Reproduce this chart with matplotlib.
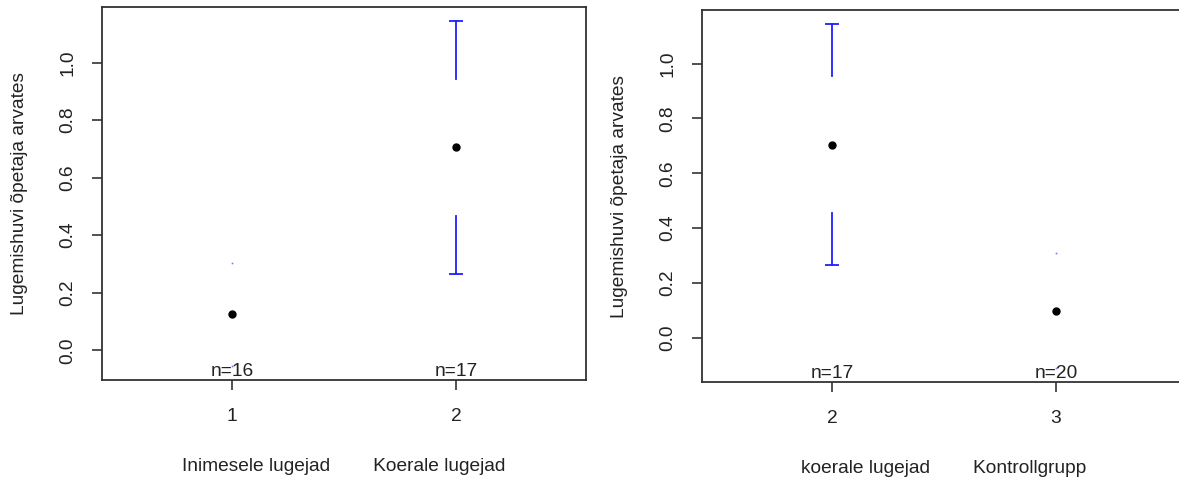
import matplotlib
matplotlib.use("Agg")
import matplotlib.pyplot as plt
import numpy as np

# andmed (loetud pildilt)
labels_left = ["1", "2"]
means_left = [0.125, 0.705]
ci_left = [0.18, 0.44]
n_left = [16, 17]
xlab_left = "Inimesele lugejad        Koerale lugejad"

labels_right = ["2", "3"]
means_right = [0.705, 0.10]
ci_right = [0.44, 0.21]
n_right = [17, 20]
xlab_right = "koerale lugejad        Kontrollgrupp"

ylab = "Lugemishuvi õpetaja arvates"
yticks = [0.0, 0.2, 0.4, 0.6, 0.8, 1.0]

plt.rcParams['font.family'] = ['Liberation Sans', 'DejaVu Sans']
FS = 13.8
BLUE = "#1f1fff"
AXCOL = "#333333"
GAP_FRAC = 0.183  # vahe punkti ja veapiiri vahel (telje kõrgusest)


def joonista(ax, tick_labels, means, half, counts, xlabel):
    pos = np.arange(1, len(means) + 1)
    means = np.array(means)
    half = np.array(half)
    lo = means - half
    hi = means + half

    # R stiilis 4% laiendus
    ymin, ymax = lo.min(), hi.max()
    pad = 0.04 * (ymax - ymin)
    ax.set_ylim(ymin - pad, ymax + pad)
    ax.set_xlim(0.5 - 0.04 * len(means), len(means) + 0.5 + 0.04 * len(means))
    gap = GAP_FRAC * (ymax - ymin + 2 * pad)

    # veapiirid (plotCI moodi, vahega keskmise ümber)
    for x, m, l, h in zip(pos, means, lo, hi):
        for start, end in ((min(m + gap, h), h), (max(m - gap, l), l)):
            if abs(end - start) > 1e-9:
                ax.plot([x, x], [start, end], color=BLUE, lw=1.3)
                ax.plot([x], [end], marker='_', ms=10, mew=1.3, color=BLUE)
            else:
                ax.plot([x], [end], marker='s', ms=1.2, mew=0, color=BLUE, alpha=0.6)

    # keskmised
    ax.plot(pos, means, 'o', color='black', ms=5)

    # n= sildid
    for x, n in zip(pos, counts):
        ax.annotate("n=%d" % n, (x, ax.get_ylim()[0]), xytext=(0, 3),
                    textcoords='offset points', ha='center', va='baseline',
                    fontsize=FS, color='#222222')

    ax.set_xticks(pos)
    ax.set_xticklabels(tick_labels)
    ax.set_yticks(yticks)
    ax.set_yticklabels(["%.1f" % t for t in yticks], rotation=90, va='center')
    ax.tick_params(axis='both', labelsize=FS, length=7.5, width=1.2,
                   color=AXCOL, labelcolor='#222222', direction='out')
    ax.tick_params(axis='y', pad=11)
    ax.tick_params(axis='x', pad=13)
    for s in ax.spines.values():
        s.set_color(AXCOL)
        s.set_linewidth(1.3)

    ax.set_xlabel(xlabel, fontsize=FS, color='#222222', va='center')
    ax.xaxis.set_label_coords(0.5, -0.232)
    ax.set_ylabel(ylab, fontsize=FS, color='#222222', va='center')
    ax.yaxis.set_label_coords(-0.17, 0.5)


fig = plt.figure(figsize=(11.79, 4.79), dpi=100)
ax1 = fig.add_axes([102 / 1179, 99 / 479, 484 / 1179, 373 / 479])
ax2 = fig.add_axes([702 / 1179, 97 / 479, 484 / 1179, 372 / 479])

joonista(ax1, labels_left, means_left, ci_left, n_left, xlab_left)
joonista(ax2, labels_right, means_right, ci_right, n_right, xlab_right)

fig.savefig("out.png", dpi=100)
